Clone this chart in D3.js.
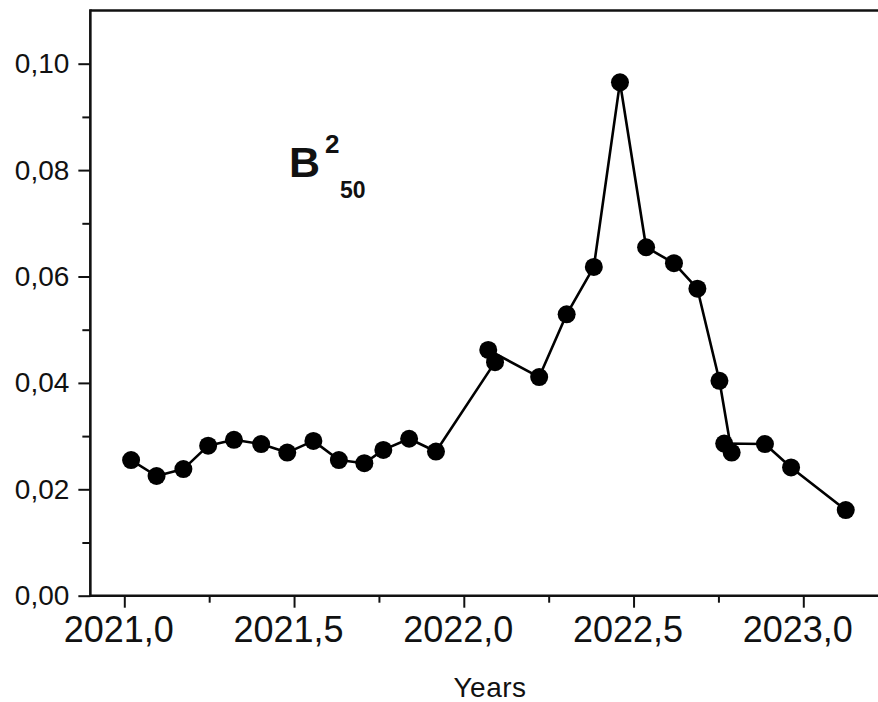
<!DOCTYPE html>
<html>
<head>
<meta charset="utf-8">
<script src="https://cdn.jsdelivr.net/npm/d3@7"></script>
<style>
  html, body { margin: 0; padding: 0; background: #fff; overflow: hidden; }
  svg { display: block; }
  text { font-family: "Liberation Sans", Arial, sans-serif; fill: #111; }
</style>
</head>
<body>
<svg id="chart" width="878" height="702"></svg>
<script>
// ---- data ----
const years = [2021.020, 2021.095, 2021.174, 2021.247, 2021.323, 2021.403, 2021.480,
  2021.557, 2021.632, 2021.707, 2021.763, 2021.839, 2021.918, 2022.092, 2022.072,
  2022.222, 2022.303, 2022.383, 2022.460, 2022.537, 2022.619, 2022.688, 2022.753,
  2022.789, 2022.767, 2022.887, 2022.964, 2023.125];
const values = [0.0255, 0.0225, 0.0238, 0.0282, 0.0293, 0.0285, 0.0269,
  0.0291, 0.0255, 0.0249, 0.0274, 0.0295, 0.0271, 0.0439, 0.0462,
  0.0411, 0.0529, 0.0618, 0.0965, 0.0655, 0.0625, 0.0577, 0.0404,
  0.0269, 0.0286, 0.0285, 0.0241, 0.0161];
const xMajorTicks = [2021.0, 2021.5, 2022.0, 2022.5, 2023.0];
const xMinorTicks = [2021.25, 2021.75, 2022.25, 2022.75, 2023.25];
const yMajorTicks = [0.00, 0.02, 0.04, 0.06, 0.08, 0.10];
const yMinorTicks = [0.01, 0.03, 0.05, 0.07, 0.09];
const xTitle = "Years";

const points = years.map((y, i) => ({ x: y, v: values[i] }));

const svg = d3.select("#chart");
const x = d3.scaleLinear().domain([2020.9, 2023.4]).range([90.35, 90.35 + 2.5 * 339.5]);
const y = d3.scaleLinear().domain([0, 0.11]).range([595.7, 10.5]);

const comma = d => d3.format(".1f")(d).replace(".", ",");
const comma2 = d => d3.format(".2f")(d).replace(".", ",");

// x axis
const gx = svg.append("g").attr("transform", `translate(0,${y(0)})`);
gx.call(d3.axisBottom(x).tickValues(xMajorTicks).tickSize(12).tickPadding(9).tickFormat(comma));
const gxm = svg.append("g").attr("transform", `translate(0,${y(0)})`);
gxm.call(d3.axisBottom(x).tickValues(xMinorTicks).tickSize(7).tickFormat(""));

// y axis
const gy = svg.append("g").attr("transform", `translate(${x(2020.9)},0)`);
gy.call(d3.axisLeft(y).tickValues(yMajorTicks).tickSize(12).tickPadding(9).tickFormat(comma2));
const gym = svg.append("g").attr("transform", `translate(${x(2020.9)},0)`);
gym.call(d3.axisLeft(y).tickValues(yMinorTicks).tickSize(8).tickFormat(""));

svg.selectAll(".domain").remove();
svg.selectAll(".tick line").attr("stroke", "#111").attr("stroke-width", 2);
gx.selectAll("text").attr("font-size", 36).attr("dx", -6).attr("fill", "#111");
gy.selectAll("text").attr("font-size", 28).attr("fill", "#111");

// frame lines
const x0 = x(2020.9), x1 = x(2023.4);
svg.append("line").attr("x1", x0).attr("x2", x1).attr("y1", y(0)).attr("y2", y(0))
  .attr("stroke", "#111").attr("stroke-width", 2.6);
svg.append("line").attr("x1", x0).attr("x2", x1).attr("y1", y(0.11)).attr("y2", y(0.11))
  .attr("stroke", "#111").attr("stroke-width", 2.6);
svg.append("line").attr("x1", x0).attr("x2", x0).attr("y1", y(0.11) - 1.3).attr("y2", y(0) + 1.3)
  .attr("stroke", "#111").attr("stroke-width", 2.6);

// line + markers
const line = d3.line().x(d => x(d.x)).y(d => y(d.v));
svg.append("path").datum(points).attr("d", line)
  .attr("fill", "none").attr("stroke", "#000").attr("stroke-width", 2.6)
  .attr("stroke-linejoin", "round");
svg.selectAll("circle.pt").data(points).join("circle")
  .attr("class", "pt").attr("cx", d => x(d.x)).attr("cy", d => y(d.v))
  .attr("r", 9).attr("fill", "#000");

// axis title
svg.append("text").attr("x", 490).attr("y", 697).attr("text-anchor", "middle")
  .attr("font-size", 28).attr("letter-spacing", 0.5).text(xTitle);

// B^2_50 label
const lab = svg.append("g").attr("font-weight", "bold");
lab.append("text").attr("x", 289).attr("y", 177).attr("font-size", 43).attr("font-weight", "bold").attr("fill", "#000").text("B");
lab.append("text").attr("x", 325).attr("y", 153).attr("font-size", 26).attr("font-weight", "bold").attr("fill", "#000").text("2");
lab.append("text").attr("x", 340).attr("y", 198).attr("font-size", 23).attr("font-weight", "bold").attr("fill", "#000").text("50");
</script>
</body>
</html>
